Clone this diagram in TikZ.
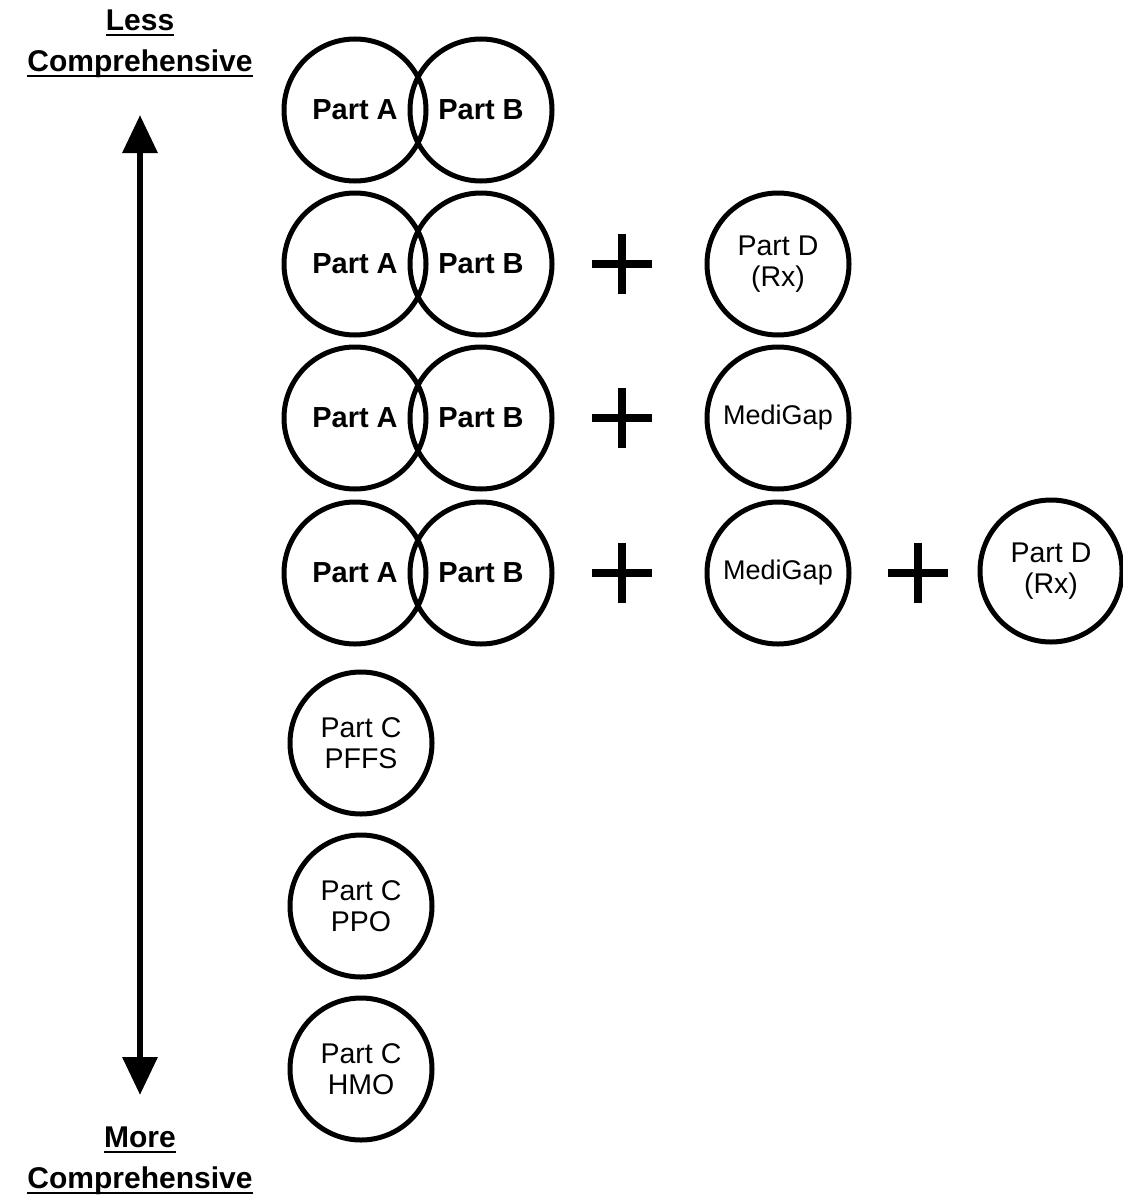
\documentclass[tikz,border=0pt]{standalone}
\usepackage{fontspec}
\setmainfont{Liberation Sans}
\newcommand{\myul}[1]{\setbox0\hbox{#1}\rlap{\vrule width\wd0 height -3pt depth 5pt}\box0}
\usetikzlibrary{arrows.meta}
\begin{document}
\begin{tikzpicture}[x=1pt,y=-1pt,
  circ/.style={circle, draw, line width=5pt, minimum size=142pt, inner sep=0pt, align=center, font=\fontsize{28.5}{31}\selectfont},
  bcirc/.style={circ, font=\fontsize{29}{31}\selectfont\bfseries},
  gcirc/.style={circ, font=\fontsize{27}{31}\selectfont},
  plussign/.style={line width=8pt},
  axislbl/.style={align=center, font=\fontsize{30}{41}\selectfont\bfseries}]
\useasboundingbox (0,0) rectangle (1123,1199);

% axis labels
\node[axislbl] (less) at (140,44) {\myul{Less}\\\myul{Comprehensive}};
\node[axislbl] (more) at (140,1161) {\myul{More}\\\myul{Comprehensive}};
\coordinate (atop) at (140,115);
\coordinate (abot) at (140,1095);
\draw[line width=6.5pt, {Triangle[length=38pt,width=34pt]}-{Triangle[length=38pt,width=34pt]}] (atop) -- (abot);

% rows with Part A / Part B
\foreach \r/\y in {1/110, 2/264, 3/418, 4/573}{
  \node[bcirc] (a\r) at (355,\y) {Part A};
  \node[bcirc] (b\r) at (481,\y) {Part B};
}
\foreach \y in {264, 418, 573}{
  \draw[plussign] (592,\y) -- (652,\y) (622,\y-30) -- (622,\y+30);
}
\draw[plussign] (888,573) -- (948,573) (918,543) -- (918,603);

\node[circ] (d2) at (778,264) {Part D\\(Rx)};
\node[gcirc] (g3) at (778,418) {MediGap};
\node[gcirc] (g4) at (778,573) {MediGap};
\node[circ] (d4) at (1051,571) {Part D\\(Rx)};

% Part C options
\node[circ] (cpffs) at (361,743) {Part C\\PFFS};
\node[circ] (cppo) at (361,906) {Part C\\PPO};
\node[circ] (chmo) at (361,1069) {Part C\\HMO};
\end{tikzpicture}
\end{document}
